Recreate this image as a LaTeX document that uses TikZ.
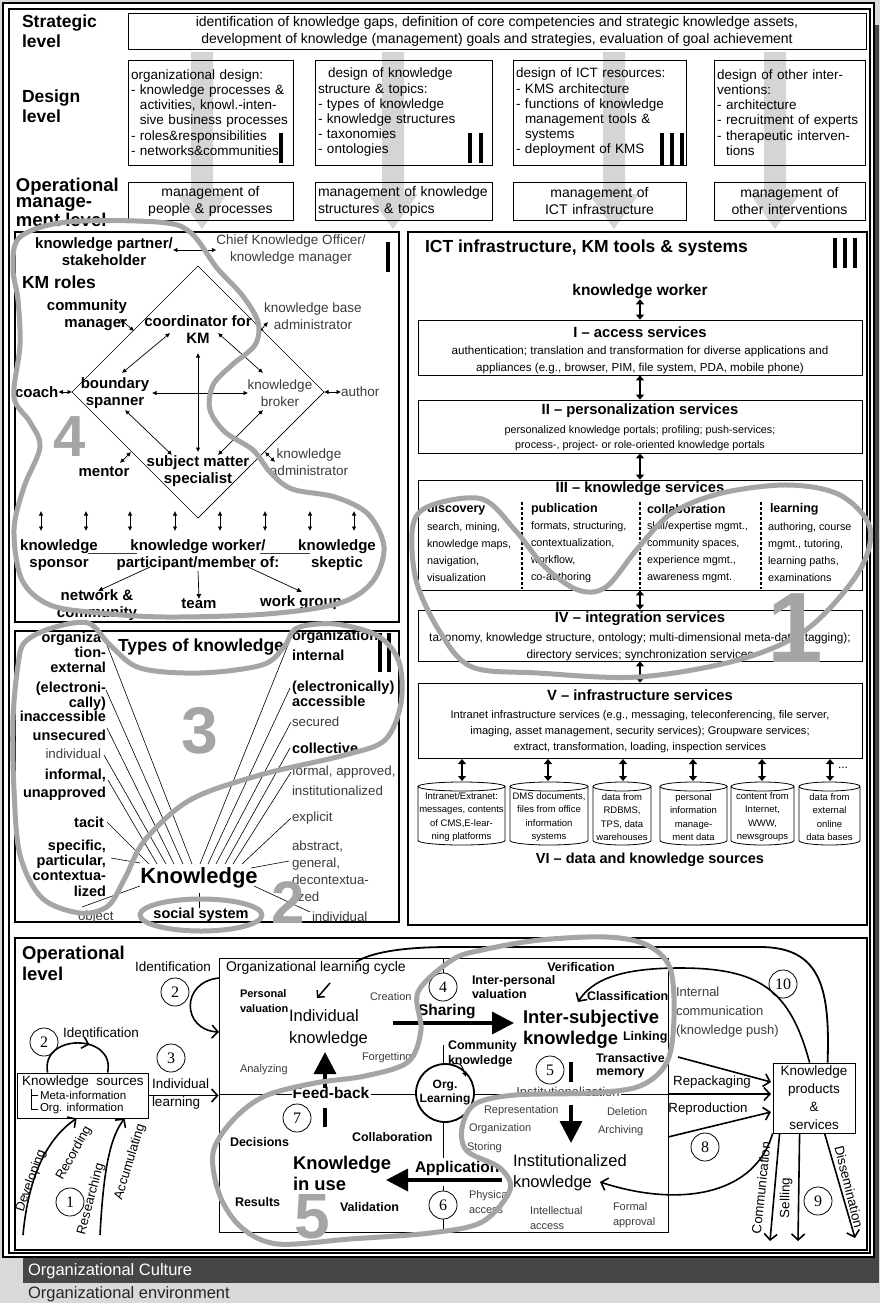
\documentclass[tikz,border=0pt]{standalone}
\usepackage{fontspec}
\setmainfont{Liberation Sans}
\newfontfamily\numfont{Liberation Serif}
\usetikzlibrary{arrows.meta,calc,decorations.markings}
\newcommand{\fz}[2]{\fontsize{#1}{#2}\selectfont}
\definecolor{envgray}{HTML}{D9D9D9}
\definecolor{culture}{HTML}{464646}
\definecolor{bigarr}{HTML}{D5D5D5}
\definecolor{hl}{HTML}{A5A5A5}
\definecolor{lab}{HTML}{3C3C3C}
\tikzset{
  tx/.style={inner sep=0pt, outer sep=0pt},
  xbox/.style={draw, line width=0.8pt, inner sep=0pt},
  xpanel/.style={draw, line width=1.6pt},
  xbar/.style={line width=3.5pt},
  dbl/.style={{Latex[length=4.5pt,width=4.5pt]}-{Latex[length=4.5pt,width=4.5pt]}, line width=0.7pt},
  sgl/.style={-{Latex[length=5pt,width=5pt]}, line width=0.7pt},
  tdbl/.style={{Triangle[length=5pt,width=8pt]}-{Triangle[length=5pt,width=8pt]}, line width=2.4pt},
  fanl/.style={line width=0.6pt},
  xbarb/.style={-{Straight Barb[length=6pt,width=13pt,line width=1.6pt]}, line width=1.6pt},
  xbig/.style={-{Triangle[length=22pt,width=22pt]}, line width=3.5pt},
  hlc/.style={draw=hl, line width=5pt, line cap=round, line join=round},
  bignum/.style={tx, text=hl, font=\bfseries\fz{62}{62}},
  cnum/.style={circle, draw, line width=0.8pt, minimum size=28pt, inner sep=0pt, fill=white, font=\numfont\fz{16}{16}},
  lvl/.style={tx, font=\bfseries\fz{17.5}{20}, align=left},
  dbox/.style={draw, line width=0.8pt, inner ysep=0pt, inner xsep=3pt, minimum height=105, align=left, font=\fz{13.5}{15.2}},
  obox/.style={draw, line width=0.8pt, inner ysep=0pt, inner xsep=3pt, minimum height=38, font=\fz{14}{17}},
  kb/.style={tx, font=\bfseries\fz{15}{17}, align=center},
  kn/.style={tx, font=\fz{13.5}{17}, text=lab, align=center},
  tb/.style={tx, font=\bfseries\fz{14.5}{15}},
  tn/.style={tx, font=\fz{13.3}{17}, text=lab},
  btitle/.style={tx, font=\bfseries\fz{14.8}{16}},
  bbody/.style={tx, font=\fz{10.6}{17}, align=center},
  chead/.style={tx, font=\bfseries\fz{12.5}{14}, anchor=west},
  cbody/.style={tx, font=\fz{10.8}{17}, align=left, anchor=west},
  ctext/.style={tx, font=\fz{9.5}{13.5}, align=center},
  sb/.style={tx, font=\bfseries\fz{12.5}{14}, align=left},
  sn/.style={tx, font=\fz{11}{15.5}, text=lab, align=left},
  mn/.style={tx, font=\fz{13.5}{18}, align=left},
}
\newcommand{\cyl}[4]{%
  \draw[line width=0.8pt, fill=white] (#1,786.5) -- (#1,840.5) arc[start angle=180, end angle=0, x radius={(#2-#1)/2}, y radius=4.5] -- (#2,786.5);
  \draw[line width=0.8pt] ({(#1+#2)/2},786.5) ellipse[x radius={(#2-#1)/2}, y radius=4.5];
  \node[ctext] (#3) at ({(#1+#2)/2},817) {#4};}
\begin{document}
\begin{tikzpicture}[x=1pt,y=-1pt]
\useasboundingbox (0,0) rectangle (880,1303);
% ---------- background frames
\fill[envgray] (0,0) rectangle (880,1303);
\fill[culture] (23,25) rectangle (879,1283);
\filldraw[fill=white, line width=1.4pt] (3,3) rectangle (874,1257);
\draw[line width=1.2pt] (9,9) rectangle (870,1253);
\node[tx, text=white, font=\fz{16.5}{18}, anchor=west] (cult) at (28,1271) {Organizational Culture};
\node[tx, text=black!85, font=\fz{16.5}{18}, anchor=west] (env) at (28,1294) {Organizational environment};

% ---------- big gray arrows
\foreach \cx in {202,393,614,775}{
  \fill[bigarr] (\cx-11,52) -- (\cx+11,52) -- (\cx+11,194) -- (\cx+25,194) -- (\cx,229) -- (\cx-25,194) -- (\cx-11,194) -- cycle;}

% ---------- top levels
\node[lvl, anchor=west] (strl) at (22,31) {Strategic\\level};
\node[lvl, anchor=west] (desl) at (22,106) {Design\\level};
\node[lvl, anchor=west, font=\bfseries\fz{18.5}{16.5}] (opml) at (16,202) {Operational\\manage-\\ment level};
\node[xbox, minimum width=738, minimum height=36, align=center, font=\fz{14}{17}] (strat) at (497,31)
  {identification of knowledge gaps, definition of core competencies and strategic knowledge assets,\\development of knowledge (management) goals and strategies, evaluation of goal achievement};
\node[dbox, text width=159] (d1) at (210.5,112.5) {organizational design:\\- knowledge processes \&\\\phantom{- }activities, knowl.-inten-\\\phantom{- }sive business processes\\- roles\&responsibilities\\- networks\&communities};
\node[dbox, text width=171] (d2) at (403.5,112.5) {\hspace*{10pt}design of knowledge\\structure \& topics:\\- types of knowledge\\- knowledge structures\\- taxonomies\\- ontologies};
\node[dbox, text width=167] (d3) at (599.5,112.5) {design of ICT resources:\\- KMS architecture\\- functions of knowledge\\\phantom{- }management tools \&\\\phantom{- }systems\\- deployment of KMS};
\node[dbox, text width=145] (d4) at (789.5,112.5) {design of other inter-\\ventions:\\- architecture\\- recruitment of experts\\- therapeutic interven-\\\phantom{- }tions};
\node[obox, text width=159, align=center] (o1) at (210.5,201) {management of\\people \& processes};
\node[obox, text width=171, align=left] (o2) at (403.5,201) {management of knowledge\\structures \& topics};
\node[obox, text width=167, align=center] (o3) at (599.5,201) {management of\\ICT infrastructure};
\node[obox, text width=145, align=center] (o4) at (789.5,201) {management of\\other interventions};
\draw[xbar] (281,133) -- (281,163);
\draw[xbar] (470,133) -- (470,163); \draw[xbar] (481,133) -- (481,163);
\draw[xbar] (662,133) -- (662,165); \draw[xbar] (672,133) -- (672,165); \draw[xbar] (682,133) -- (682,165);

% ---------- panels
\draw[xpanel] (15,232) rectangle (399,622);
\draw[xpanel] (15,631) rectangle (399,922);
\draw[xpanel] (408,232) rectangle (867,925);
\draw[xpanel] (15,938) rectangle (867,1250);

% ---------- KM roles
\draw[xbar] (388,242) -- (388,272);
\node[kb] (kpart) at (104,252) {knowledge partner/\\stakeholder};
\node[kn] (cko) at (291,250) {Chief Knowledge Officer/\\knowledge manager};
\draw[dbl] (kpart.east |- cko.west) -- (cko.west);
\node[tx, font=\bfseries\fz{17.5}{20}, anchor=west] (kmr) at (22,282) {KM roles};
\coordinate (dT) at (198,266); \coordinate (dR) at (324,392);
\coordinate (dB) at (198,518); \coordinate (dL) at (72,392);
\draw[line width=0.7pt] (dT) -- (dR) -- (dB) -- (dL) -- cycle;
\node[kb, align=right, anchor=east] (cmgr) at (127,315) {community\\manager};
\node[kb] (coord) at (198,330) {coordinator for\\KM};
\node[kn] (kba) at (313,316) {knowledge base\\administrator};
\node[kb] (bspan) at (115,393) {boundary\\spanner};
\node[kb, anchor=west] (coach) at (15,392) {coach};
\node[kn] (kbro) at (280,393) {knowledge\\broker};
\node[kn, anchor=west] (auth) at (341,392) {author};
\node[kb] (sms) at (198,471) {subject matter\\specialist};
\node[kb] (ment) at (104,472) {mentor};
\node[kn] (kadm) at (309,462) {knowledge\\administrator};
\node[kb] (kspon) at (59,555) {knowledge\\sponsor};
\node[kb] (kwork) at (198,555) {knowledge worker/\\participant/member of:};
\node[kb] (kskep) at (337,555) {knowledge\\skeptic};
\node[kb] (netc) at (97,605) {network \&\\community};
\node[kb] (team) at (199,604) {team};
\node[kb] (wgrp) at (301,603) {work group};
\draw[dbl] (coach.east) -- (dL);
\draw[dbl] (dR) -- (auth.west);
\coordinate (cmA) at (120,319); \coordinate (cmB) at (134,331);
\draw[dbl] (cmA) -- (cmB);
\coordinate (kbaA) at (259,332); \coordinate (kbaB) at (268,322);
\draw[dbl] (kbaA) -- (kbaB);
\coordinate (mA) at (120,463); \coordinate (mB) at (131,452);
\draw[dbl] (mA) -- (mB);
\coordinate (kaA) at (265,452); \coordinate (kaB) at (275,462);
\draw[dbl] (kaA) -- (kaB);
\coordinate (cS) at (198,353); \coordinate (sN) at (198,452);
\draw[dbl] (cS) -- (sN);
\coordinate (bE) at (152,393); \coordinate (kW) at (248,393);
\draw[dbl] (bE) -- (kW);
\coordinate (cL) at (170,333); \coordinate (bNE) at (122,373);
\draw[dbl] (cL) -- (bNE);
\coordinate (cR) at (218,333); \coordinate (kNW) at (263,373);
\draw[dbl] (cR) -- (kNW);
\coordinate (bSE) at (125,410); \coordinate (sL) at (172,455);
\draw[dbl] (bSE) -- (sL);
\coordinate (kSW) at (263,410); \coordinate (sR) at (218,455);
\draw[dbl] (kSW) -- (sR);
\foreach \x in {41,86,130,175,220,265,310,354} \draw[dbl] (\x,511) -- (\x,531);
\draw[lab, line width=0.5pt] (88,553) -- (137,553);
\draw[lab, line width=0.5pt] (260,553) -- (310,553);
\coordinate (pA) at (150,567); \coordinate (pB) at (198,571); \coordinate (pC) at (248,567);
\coordinate (ncE) at (98,591); \coordinate (wgE) at (302,592);
\draw[sgl] (pA) -- (ncE);
\draw[sgl] (pB) -- (team.north);
\draw[sgl] (pC) -- (wgE);

% ---------- Types of knowledge
\draw[xbar] (380,633) -- (380,672); \draw[xbar] (389,633) -- (389,672);
\begin{scope}
\clip (16,632) rectangle (398,921);
\node[tb, align=right, anchor=east, font=\bfseries\fz{14.5}{15}] (tl1) at (106,652) {organiza-\\tion-\\external};
\node[tb, align=right, anchor=east, font=\bfseries\fz{14.5}{12}] (tl2) at (106,702) {(electroni-\\cally)\\inaccessible};
\node[tb, anchor=east] (tl3) at (106,735) {unsecured};
\node[tn, anchor=east] (tl4) at (101,754) {individual};
\node[tb, align=right, anchor=east, font=\bfseries\fz{14.5}{18}] (tl5) at (106,785) {informal,\\unapproved};
\node[tb, anchor=east] (tl6) at (104,822) {tacit};
\node[tb, align=right, anchor=east, font=\bfseries\fz{14.5}{15.3}] (tl7) at (106,868) {specific,\\particular,\\contextua-\\lized};
\node[tn, anchor=west] (tl8) at (78,917) {object};
\node[tb, align=left, anchor=west, font=\bfseries\fz{14.5}{20}] (tr1) at (292,645) {organization\\internal};
\node[tb, align=left, anchor=west, font=\bfseries\fz{14.5}{13}] (tr2) at (292,694) {(electronically)\\accessible};
\node[tn, anchor=west] (tr3) at (292,722) {secured};
\node[tb, anchor=west] (tr4) at (292,748) {collective};
\node[tn, align=left, anchor=west, font=\fz{13.3}{20}] (tr5) at (292,781) {formal, approved,\\institutionalized};
\node[tn, anchor=west] (tr6) at (292,818) {explicit};
\node[tn, align=left, anchor=west, font=\fz{13.3}{17}] (tr7) at (292,871) {abstract,\\general,\\decontextua-\\lized};
\node[tn, anchor=west] (tr8) at (312,917) {individual};
\end{scope}
\node[tx, font=\bfseries\fz{17.5}{20}] (tok) at (201,647) {Types of knowledge};
\node[tx, font=\bfseries\fz{22}{24}] (know) at (199,878) {Knowledge};
\node[tx, font=\bfseries\fz{14.5}{16}] (socs) at (201,915) {social system};
\draw[fanl] (107,645) -- (192,864);
\draw[fanl] (106,690) -- (183,864);
\draw[fanl] (107,728) -- (174,864);
\draw[fanl] (104,755) -- (166,864);
\draw[fanl] (108,780) -- (157,864);
\draw[fanl] (107,822) -- (149,864);
\draw[fanl] (111,858) -- (140,863);
\draw[fanl] (82,907) -- (140,886);
\draw[fanl] (290,640) -- (200,864);
\draw[fanl] (290,688) -- (208,864);
\draw[fanl] (291,722) -- (216,864);
\draw[fanl] (290,748) -- (225,864);
\draw[fanl] (291,772) -- (233,864);
\draw[fanl] (291,818) -- (242,864);
\draw[fanl] (289,861) -- (251,868);
\draw[fanl] (310,912) -- (254,886);
\coordinate (kbot) at (199,893);
\draw[fanl] (kbot) -- (kbot |- socs.north);

% ---------- ICT
\draw[xbar] (835,238) -- (835,268); \draw[xbar] (845,238) -- (845,268); \draw[xbar] (855,238) -- (855,268);
\node[tx, font=\bfseries\fz{17.5}{20}, anchor=west] (ict) at (425,248) {ICT infrastructure, KM tools \& systems};
\node[tx, font=\bfseries\fz{15.5}{18}] (kwk) at (640,292) {knowledge worker};
\node[xbox, minimum width=444, minimum height=55] (b1) at (640,347.5) {};
\node[xbox, minimum width=444, minimum height=53] (b2) at (640,426.5) {};
\node[xbox, minimum width=444, minimum height=110] (b3) at (640,535) {};
\node[xbox, minimum width=444, minimum height=51] (b4) at (640,635.5) {};
\node[xbox, minimum width=444, minimum height=75] (b5) at (640,720.5) {};
\draw[tdbl] (kwk.south) -- (b1.north);
\draw[tdbl] (b1.south) -- (b2.north);
\draw[tdbl] (b2.south) -- (b3.north);
\draw[tdbl] (b3.south) -- (b4.north);
\draw[tdbl] (b4.south) -- (b5.north);
\node[btitle] (b1t) at (640,332) {I – access services};
\node[bbody, font=\fz{11.6}{17.5}] (b1b) at (640,360) {authentication; translation and transformation for diverse applications and\\appliances (e.g., browser, PIM, file system, PDA, mobile phone)};
\node[btitle] (b2t) at (640,411) {II – personalization services};
\node[bbody, font=\fz{10.8}{14.5}] (b2b) at (640,438) {personalized knowledge portals; profiling; push-services;\\process-, project- or role-oriented knowledge portals};
\node[btitle] (b3t) at (640,489) {III – knowledge services};
\foreach \xx in {522,640,761} \draw[line width=1.1pt, dash pattern=on 3pt off 2pt] (\xx,502) -- (\xx,589);
\node[chead] (h1) at (427,509) {discovery};
\node[chead] (h2) at (531,509) {publication};
\node[chead] (h3) at (647,509) {collaboration};
\node[chead] (h4) at (770,509) {learning};
\node[cbody] (c1) at (427,552) {search, mining,\\knowledge maps,\\navigation,\\visualization};
\node[cbody] (c2) at (531,552) {formats, structuring,\\contextualization,\\workflow,\\co-authoring};
\node[cbody] (c3) at (647,552) {skill/expertise mgmt.,\\community spaces,\\experience mgmt.,\\awareness mgmt.};
\node[cbody] (c4) at (768,552) {authoring, course\\mgmt., tutoring,\\learning paths,\\examinations};
\node[btitle] (b4t) at (640,619) {IV – integration services};
\node[bbody, font=\fz{11.8}{16.5}] (b4b) at (640,647) {taxonomy, knowledge structure, ontology; multi-dimensional meta-data (tagging);\\directory services; synchronization services};
\node[btitle] (b5t) at (640,695) {V – infrastructure services};
\node[bbody, font=\fz{11.1}{16}] (b5b) at (640,732) {Intranet infrastructure services (e.g., messaging, teleconferencing, file server,\\imaging, asset management, security services); Groupware services;\\extract, transformation, loading, inspection services};
\cyl{418}{505}{cy1}{Intranet/Extranet:\\messages, contents\\of CMS,E-lear-\\ning platforms}
\cyl{510}{588}{cy2}{DMS documents,\\files from office\\information\\systems}
\cyl{593}{651}{cy3}{data from\\RDBMS,\\TPS, data\\warehouses}
\cyl{660}{727}{cy4}{personal\\information\\manage-\\ment data}
\cyl{731}{794}{cy5}{content from\\Internet,\\WWW,\\newsgroups}
\cyl{799}{860}{cy6}{data from\\external\\online\\data bases}
\foreach \x in {462,548,623,693,762,830} \draw[tdbl] (\x,759) -- (\x,781);
\node[tx, font=\fz{12}{12}, anchor=west] (dots) at (838,768) {...};
\node[tx, font=\bfseries\fz{14.5}{16}] (vi) at (650,860) {VI – data and knowledge sources};

% ---------- Operational level
\node[lvl, anchor=west, font=\bfseries\fz{18.5}{21}] (oplvl) at (22,963) {Operational\\level};
\node[xbox, minimum width=449, minimum height=274] (ilc) at (443.5,1095) {};
\draw[line width=0.8pt] (443,958) -- (443,973);
\draw[line width=0.8pt] (443,1045) -- (443,1064);
\draw[line width=0.8pt] (443,1122) -- (443,1158);
\draw[line width=0.8pt] (443,1186) -- (443,1232);
\draw[line width=0.8pt] (219,1094) -- (292,1094);
\draw[line width=0.8pt] (371,1094) -- (416,1094);
\draw[line width=0.8pt] (474,1094) -- (515,1094);
\draw[line width=0.8pt] (621,1094) -- (668,1094);
% left part
\node[xbox, minimum width=131, minimum height=45] (ksbox) at (82.5,1095.5) {};
\node[tx, font=\fz{13.5}{15}, anchor=west] (kst) at (22,1082) {Knowledge\ \ sources};
\node[tx, font=\fz{11.5}{13}, anchor=west] (meta) at (40,1095) {Meta-information};
\node[tx, font=\fz{11.5}{13}, anchor=west] (orgi) at (40,1109) {Org. information};
\draw[line width=0.6pt] (31,1089) -- (31,1109) -- (38,1109);
\draw[line width=0.6pt] (31,1095) -- (38,1095);
\node[cnum] (n2a) at (44,1042) {2};
\node[tx, font=\fz{13.5}{15}, anchor=west] (ida) at (63,1033) {Identification};
\draw[line width=1.6pt, postaction={decorate}, decoration={markings, mark=at position 0.62 with {\arrow{Straight Barb[length=6pt,width=12pt,line width=1.6pt]}}}]
  ([xshift=31pt]ksbox.north west) .. controls (40,1033) and (116,1033) .. ([xshift=91pt]ksbox.north west);
\node[cnum] (n3) at (171,1058) {3};
\node[mn, anchor=west] (indl) at (152,1094) {Individual\\learning};
\draw[xbarb] (ksbox.east) -- (ksbox.east -| ilc.west);
\node[tx, font=\fz{13.5}{15}, anchor=west] (idb) at (135,967) {Identification};
\node[cnum] (n2b) at (175,992) {2};
\coordinate (idA) at (219,978); \coordinate (idB) at (219,1032);
\draw[xbarb] (idA) .. controls (180,982) and (182,1030) .. (idB);
\coordinate (devS) at (23,1235); \coordinate (resS) at (100,1235);
\draw[xbarb] (devS) .. controls (28,1180) and (45,1140) .. ([xshift=60pt]ksbox.south west);
\draw[xbarb] (resS) .. controls (103,1180) and (108,1140) .. ([xshift=108pt]ksbox.south west);
\node[tx, font=\fz{13}{15}, rotate=70] (dev) at (31,1181) {Developing};
\node[tx, font=\fz{13}{15}, rotate=61] (rec) at (74,1153) {Recording};
\node[tx, font=\fz{13}{15}, rotate=75] (res) at (91,1199) {Researching};
\node[tx, font=\fz{13}{15}, rotate=73] (acc) at (130,1162) {Accumulating};
\node[cnum] (n1) at (70,1202) {1};
% inside cycle
\node[tx, font=\fz{14}{16}, anchor=west] (olc) at (226,968) {Organizational learning cycle};
\node[sb, font=\bfseries\fz{11}{15}, anchor=west] (pval) at (240,1001) {Personal\\valuation};
\coordinate (chkA) at (330,983); \coordinate (chkB) at (317,998);
\draw[line width=1.5pt, -{Straight Barb[length=5pt,width=10pt,line width=1.5pt]}] (chkA) -- (chkB);
\node[sn, anchor=west] (crea) at (370,997) {Creation};
\node[tx, font=\fz{16.5}{22}, align=left, anchor=west] (indk) at (289,1028) {Individual\\knowledge};
\node[sn, anchor=west] (forg) at (362,1058) {Forgetting};
\node[sn, anchor=west] (anal) at (240,1070) {Analyzing};
\coordinate (fbA) at (325,1088); \coordinate (fbB) at (325,1052);
\draw[xbig] (fbA) -- (fbB);
\draw[xbar] (325,1108) -- (325,1127);
\node[tx, font=\bfseries\fz{15.5}{17}] (fb) at (331,1093) {Feed-back};
\node[cnum] (n7) at (297,1118) {7};
\node[sb, anchor=west] (deci) at (230,1142) {Decisions};
\node[sb, anchor=west] (coll) at (352,1137) {Collaboration};
\node[tx, font=\bfseries\fz{18.4}{21}, align=left, anchor=west] (kiu) at (293,1173) {Knowledge\\in use};
\node[sb, anchor=west] (resu) at (235,1202) {Results};
\node[sb, anchor=west] (vali) at (340,1207) {Validation};
\node[cnum] (n4) at (443,987) {4};
\node[cnum] (n6) at (443,1205) {6};
\node[tx, font=\bfseries\fz{15.5}{17}, anchor=west] (shar) at (418,1012) {Sharing};
\coordinate (shA) at (393,1023); \coordinate (shB) at (514,1023);
\draw[xbig] (shA) -- (shB);
\node[tx, font=\bfseries\fz{15.5}{17}, anchor=west] (appl) at (415,1168) {Application};
\coordinate (apA) at (502,1180); \coordinate (apB) at (386,1180);
\draw[xbig] (apA) -- (apB);
\node[circle, draw, line width=1.8pt, minimum size=58, inner sep=0pt, fill=white, align=center, font=\bfseries\fz{12}{14}] (orgl) at (445,1093) {Org.\\Learning};
\node[sb, anchor=west, font=\bfseries\fz{12.5}{15}] (comk) at (448,1054) {Community\\knowledge};
\coordinate (ckA) at (452,1064); \coordinate (ckB) at (466,1077);
\draw[sgl, line width=0.9pt] (ckA) .. controls (461,1063) .. (ckB);
\node[sb, anchor=west] (ipv) at (472,987) {Inter-personal\\valuation};
\node[sb] (veri) at (581,967) {Verification};
\node[sb, anchor=west] (clas) at (587,996) {Classification};
\node[tx, font=\bfseries\fz{18.4}{21}, align=left, anchor=west] (isk) at (523,1029) {Inter-subjective\\knowledge};
\node[sb, anchor=west] (link) at (623,1037) {Linking};
\node[cnum] (n5) at (550,1070) {5};
\node[sb, anchor=west, font=\bfseries\fz{12.5}{13.5}] (tram) at (596,1066) {Transactive\\memory};
\draw[xbar] (571,1062) -- (571,1082);
\node[tx, font=\fz{13}{15}, text=lab] (inst) at (568,1092) {Institutionalization};
\coordinate (inA) at (571,1105); \coordinate (inB) at (571,1143);
\draw[xbig] (inA) -- (inB);
\node[sn, anchor=west] (repr) at (484,1111) {Representation};
\node[sn, anchor=west] (dele) at (607,1112) {Deletion};
\node[sn, anchor=west] (orga) at (469,1129) {Organization};
\node[sn, anchor=west] (arch) at (598,1131) {Archiving};
\node[sn, anchor=west] (stor) at (467,1148) {Storing};
\node[tx, font=\fz{16.5}{21}, align=left, anchor=west] (ink) at (513,1173) {Institutionalized\\knowledge};
\node[sn, anchor=west] (phys) at (469,1202) {Physical\\access};
\node[sn, anchor=west] (inte) at (530,1218) {Intellectual\\access};
\node[sn, anchor=west] (form) at (613,1215) {Formal\\approval};
% right part
\node[xbox, minimum width=82, minimum height=70, align=center, font=\fz{13.5}{18}] (kp) at (814,1098) {Knowledge\\products\\\&\\services};
\node[mn, font=\fz{13}{19}, anchor=west, text=lab] (icom) at (676,1012) {Internal\\communication\\(knowledge push)};
\node[cnum] (n10) at (783,984) {10};
\node[cnum] (n8) at (705,1147) {8};
\node[cnum] (n9) at (818,1201) {9};
\coordinate (tmA) at (678,1057); \coordinate (kpA) at (771,1082);
\coordinate (ilcE) at (668,1094); \coordinate (kpB) at (771,1094);
\coordinate (ilcE2) at (668,1137); \coordinate (kpC) at (771,1112);
\draw[xbarb] (tmA) -- (kpA);
\draw[xbarb] (ilcE) -- (kpB);
\draw[xbarb] (ilcE2) -- (kpC);
\node[tx, font=\fz{13.3}{15}] (repk) at (712,1082) {Repackaging};
\node[tx, font=\fz{13.3}{15}] (repd) at (708,1109) {Reproduction};
\coordinate (cAend) at (356,962);
\draw[line width=1.8pt] ([xshift=55pt]kp.north west) .. controls (830,990) and (822,947) .. (760,947) -- (450,947) .. controls (400,947) and (370,953) .. (cAend);
\coordinate (cBend) at (578,1002);
\draw[xbarb] ([xshift=37pt]kp.north west) .. controls (790,990) and (760,968) .. (680,968) .. controls (620,968) and (592,980) .. (cBend);
\coordinate (cCend) at (600,1182);
\draw[xbarb] (kp.south west) .. controls (755,1195) and (680,1208) .. (cCend);
\coordinate (commE) at (770,1241); \coordinate (sellE) at (798,1241); \coordinate (dissE) at (855,1238);
\draw[xbarb] ([xshift=7pt]kp.south west) -- (commE);
\draw[xbarb] ([xshift=27pt]kp.south west) -- (sellE);
\draw[xbarb] ([xshift=52pt]kp.south west) -- (dissE);
\node[tx, font=\fz{13.3}{15}, rotate=84] (comm) at (761,1188) {Communication};
\node[tx, font=\fz{13.3}{15}, rotate=89] (sell) at (786,1198) {Selling};
\node[tx, font=\fz{13.3}{15}, rotate=-76] (diss) at (849,1187) {Dissemination};

% ---------- big gray numbers
\node[bignum, font=\bfseries\fz{58}{58}] (g4) at (70,437) {4};
\node[bignum, font=\bfseries\fz{100}{100}] (g1) at (795,628) {1};
\node[bignum, font=\bfseries\fz{66}{66}] (g3) at (200,731) {3};
\node[bignum, font=\bfseries\fz{60}{60}] (g2) at (288,903) {2};
\node[bignum, font=\bfseries\fz{64}{64}] (g5) at (312,1217) {5};

% ---------- highlight curves
\draw[hlc] plot[smooth cycle, tension=0.55] coordinates {(20,237) (67,222) (157,222) (190,232) (217,268) (242,295) (258,322) (255,345) (232,365) (213,385) (210,410) (225,432) (253,450) (270,472) (292,489) (335,497) (368,514) (384,547) (373,581) (340,603) (267,614) (167,617) (100,613) (50,605) (22,580) (14,530) (24,487) (40,447) (30,422) (14,397) (20,345) (18,300) (13,268)};
\draw[hlc] plot[smooth cycle, tension=0.55] coordinates {(413,525) (432,505) (482,499) (515,530) (545,567) (578,590) (606,587) (638,548) (672,513) (722,493) (788,485) (840,495) (870,528) (858,573) (806,630) (738,660) (638,677) (538,673) (472,667) (440,632) (416,580)};
\draw[hlc] plot[smooth cycle, tension=0.55] coordinates {(25,642) (52,628) (88,623) (110,645) (140,668) (200,673) (262,665) (284,647) (297,628) (335,624) (378,636) (399,662) (401,703) (385,740) (345,755) (260,775) (190,800) (145,840) (125,878) (108,906) (80,913) (42,898) (20,855) (14,790) (13,720) (18,665)};
\draw[hlc] (201,915) ellipse[x radius=61, y radius=16];
\draw[hlc] plot[smooth cycle, tension=0.55] coordinates {(452,960) (418,992) (421,1030) (408,1062) (365,1076) (315,1083) (265,1096) (233,1120) (213,1153) (220,1196) (242,1228) (278,1244) (350,1239) (430,1233) (482,1222) (510,1190) (500,1168) (467,1151) (462,1128) (475,1104) (515,1095) (590,1093) (640,1086) (667,1062) (674,1018) (670,968) (647,945) (607,937) (540,940) (482,950)};
\end{tikzpicture}
\end{document}
